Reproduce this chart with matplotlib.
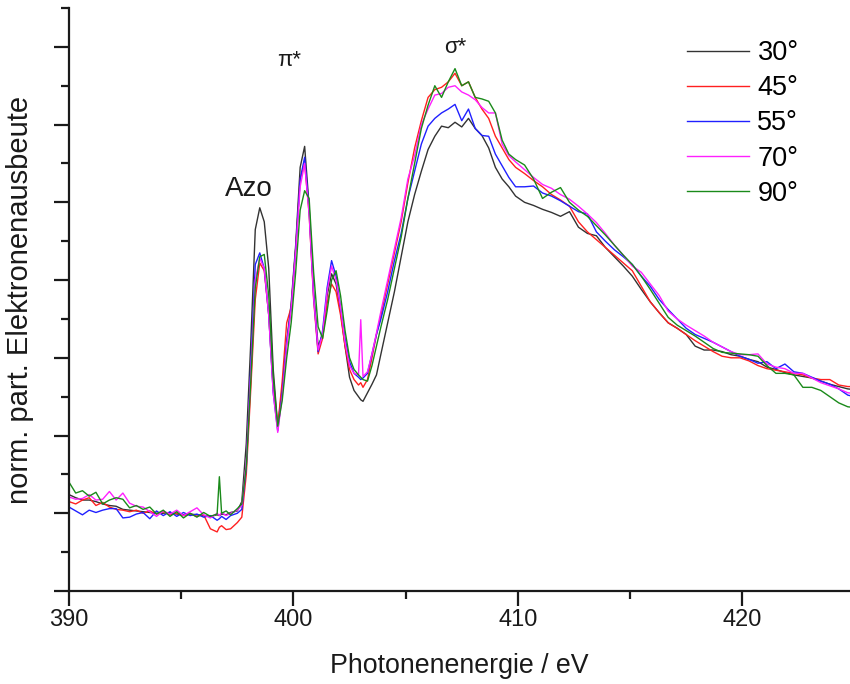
import matplotlib
matplotlib.use("Agg")
import matplotlib.pyplot as plt
from matplotlib.ticker import MultipleLocator, NullFormatter

plt.rcParams["font.family"] = ["Liberation Sans", "DejaVu Sans"]

# Photonenenergie (eV), gemeinsames Raster fuer alle Winkel
energy = [
    390.0, 390.3, 390.6, 390.9, 391.2, 391.5, 391.8, 392.1, 392.4, 392.7,
    393.0, 393.3, 393.6, 393.9, 394.2, 394.5, 394.8, 395.1, 395.4, 395.7,
    396.0, 396.3, 396.6, 396.7, 396.8, 397.0, 397.2, 397.5,
    397.7, 397.9, 398.1, 398.3, 398.5, 398.7, 398.9, 399.1, 399.3, 399.5,
    399.7, 399.9, 400.1, 400.3, 400.5, 400.7, 400.9, 401.1, 401.3, 401.5,
    401.7, 401.9, 402.1, 402.3, 402.5, 402.7, 402.9, 403.0, 403.1, 403.3,
    403.5, 403.7, 403.9,
    404.2, 404.5, 404.8, 405.1, 405.4, 405.7, 406.0, 406.3, 406.6, 406.9,
    407.2, 407.5, 407.8, 408.1, 408.4, 408.7, 409.0, 409.3, 409.6, 409.9,
    410.3, 410.7, 411.1, 411.5, 411.9, 412.3, 412.7, 413.1, 413.5, 413.9,
    414.3, 414.7, 415.1, 415.5, 415.9, 416.3, 416.7, 417.1, 417.5, 417.9,
    418.3, 418.7, 419.1, 419.5, 419.9, 420.3, 420.7, 421.1, 421.5, 421.9,
    422.3, 422.7, 423.1, 423.5, 423.9, 424.3, 424.7, 425.0,
]

y30 = [
    1.24, 1.20, 1.17, 1.17, 1.15, 1.12, 1.10, 1.09, 1.05, 1.04,
    1.03, 1.02, 1.01, 1.00, 1.00, 1.01, 0.99, 0.98, 0.99, 0.98,
    0.97, 0.96, 0.98, 0.97, 0.99, 0.98, 1.01, 1.03,
    1.15, 1.90, 3.20, 4.65, 4.93, 4.75, 4.15, 2.85, 2.12, 2.60,
    3.20, 3.70, 4.45, 5.45, 5.72, 4.95, 3.85, 3.15, 3.30, 3.80,
    4.08, 3.95, 3.60, 3.15, 2.75, 2.58, 2.50, 2.46, 2.44, 2.55,
    2.66, 2.78, 3.05,
    3.45, 3.85, 4.30, 4.75, 5.10, 5.40, 5.68, 5.85, 5.98, 5.96,
    6.03, 5.97, 6.08, 5.95, 5.86, 5.70, 5.45, 5.30, 5.20, 5.08,
    5.00, 4.96, 4.91, 4.87, 4.82, 4.88, 4.68, 4.60, 4.57, 4.42,
    4.30, 4.18, 4.05, 3.88, 3.72, 3.58, 3.45, 3.38, 3.30, 3.15,
    3.10, 3.10, 3.08, 3.04, 3.02, 2.98, 2.95, 2.88, 2.85, 2.81,
    2.78, 2.76, 2.74, 2.70, 2.66, 2.63, 2.60, 2.59,
]

y45 = [
    1.15, 1.12, 1.17, 1.20, 1.10, 1.14, 1.08, 1.05, 1.04, 1.02,
    1.04, 1.00, 1.03, 0.99, 1.02, 0.98, 1.00, 0.97, 0.99, 0.96,
    0.98, 0.80, 0.76, 0.82, 0.84, 0.79, 0.80, 0.88,
    0.95, 1.50, 2.60, 3.75, 4.22, 4.12, 3.55, 2.60, 2.12, 2.70,
    3.45, 3.65, 4.40, 5.30, 5.50, 4.85, 3.75, 3.05, 3.25, 3.70,
    3.95, 3.85, 3.55, 3.15, 2.85, 2.72, 2.65, 2.68, 2.62, 2.72,
    3.00, 3.30, 3.55,
    3.95, 4.35, 4.75, 5.25, 5.70, 6.05, 6.35, 6.45, 6.48, 6.55,
    6.66, 6.50, 6.55, 6.35, 6.20, 6.08, 5.85, 5.70, 5.55, 5.45,
    5.37, 5.28, 5.20, 5.10, 5.03, 4.95, 4.75, 4.62, 4.52, 4.42,
    4.32, 4.22, 4.12, 3.92, 3.72, 3.58, 3.45, 3.38, 3.30, 3.22,
    3.15, 3.08, 3.02, 3.00, 3.00, 2.96, 2.90, 2.86, 2.84, 2.82,
    2.80, 2.78, 2.74, 2.72, 2.72, 2.65, 2.63, 2.63,
]

y55 = [
    1.08, 1.03, 0.98, 1.04, 1.01, 1.04, 1.06, 1.06, 0.94, 0.95,
    0.99, 1.01, 0.93, 1.03, 0.97, 1.02, 0.96, 1.01, 0.97, 0.99,
    0.95, 0.97, 0.91, 0.93, 0.96, 0.92, 0.97, 1.00,
    1.05, 1.60, 2.90, 4.20, 4.35, 4.15, 3.55, 2.55, 2.06, 2.55,
    3.20, 3.65, 4.40, 5.30, 5.58, 4.90, 3.80, 3.08, 3.35, 3.90,
    4.25, 4.05, 3.65, 3.25, 2.95, 2.80, 2.75, 2.72, 2.74, 2.80,
    3.05, 3.30, 3.50,
    3.85, 4.25, 4.60, 5.05, 5.40, 5.75, 5.98, 6.08, 6.15, 6.20,
    6.26, 6.05, 6.20, 5.95, 5.86, 5.85, 5.62, 5.47, 5.32, 5.20,
    5.20, 5.21, 5.12, 5.08, 5.02, 4.95, 4.88, 4.85, 4.62, 4.50,
    4.39, 4.30, 4.20, 4.05, 3.92, 3.75, 3.62, 3.50, 3.38, 3.30,
    3.25, 3.20, 3.14, 3.08, 3.02, 2.98, 2.93, 2.95, 2.86, 2.92,
    2.82, 2.80, 2.75, 2.70, 2.66, 2.60, 2.52, 2.50,
]

y70 = [
    1.21, 1.18, 1.19, 1.24, 1.17, 1.18, 1.28, 1.17, 1.26, 1.13,
    1.09, 1.08, 1.02, 0.96, 1.03, 0.99, 1.04, 0.97, 1.02, 1.07,
    0.98, 0.94, 1.00, 0.97, 1.01, 0.97, 1.00, 1.04,
    1.10, 1.65, 2.80, 4.00, 4.28, 4.15, 3.55, 2.55, 2.04, 2.50,
    3.15, 3.62, 4.35, 5.20, 5.50, 4.85, 3.78, 3.10, 3.30, 3.85,
    4.18, 4.00, 3.65, 3.20, 2.90, 2.80, 2.78, 3.49, 2.76, 2.82,
    3.05, 3.32, 3.60,
    4.00, 4.40, 4.80, 5.30, 5.60, 6.00, 6.20, 6.38, 6.40, 6.48,
    6.50, 6.42, 6.38, 6.32, 6.22, 6.15, 6.15, 5.75, 5.60, 5.52,
    5.42, 5.32, 5.23, 5.18, 5.10, 5.04, 4.95, 4.85, 4.74, 4.60,
    4.45, 4.32, 4.18, 4.10, 3.95, 3.80, 3.60, 3.50, 3.42, 3.35,
    3.28, 3.20, 3.14, 3.08, 3.04, 3.04, 3.05, 2.92, 2.88, 2.86,
    2.80, 2.80, 2.74, 2.68, 2.64, 2.60, 2.55, 2.54,
]

y90 = [
    1.40, 1.26, 1.29, 1.22, 1.27, 1.12, 1.17, 1.20, 1.18, 1.07,
    1.10, 1.05, 1.08, 0.99, 1.04, 0.96, 1.02, 0.94, 1.00, 0.95,
    1.01, 0.96, 0.99, 1.47, 1.00, 1.03, 0.98, 1.06,
    1.12, 1.60, 2.70, 3.90, 4.30, 4.33, 3.80, 2.75, 2.12, 2.45,
    3.00, 3.45, 4.10, 4.90, 5.15, 5.05, 4.10, 3.40, 3.25, 3.60,
    4.00, 4.12, 3.80, 3.35, 3.00, 2.85, 2.78, 2.75, 2.72, 2.70,
    2.90, 3.15, 3.40,
    3.75, 4.15, 4.55, 5.05, 5.50, 5.95, 6.25, 6.50, 6.35, 6.55,
    6.72, 6.50, 6.55, 6.35, 6.33, 6.30, 6.15, 5.80, 5.62, 5.55,
    5.48, 5.30, 5.05, 5.13, 5.19, 5.00, 4.90, 4.82, 4.70, 4.58,
    4.45, 4.32, 4.20, 4.05, 3.88, 3.70, 3.52, 3.42, 3.35, 3.28,
    3.20, 3.12, 3.07, 3.06, 3.05, 3.04, 3.02, 2.90, 2.80, 2.80,
    2.78, 2.62, 2.62, 2.58, 2.50, 2.42, 2.37, 2.36,
]

series = [y30, y45, y55, y70, y90]
labels = ["30°", "45°", "55°", "70°", "90°"]
colors = ["#333333", "#ff2020", "#2020ff", "#ff20ff", "#1a8a1a"]

fig = plt.figure(figsize=(8.5, 6.84), dpi=100)
ax = fig.add_axes([69 / 850, 93 / 684, 1 - 69 / 850, 583 / 684])

for ys, lab, col in zip(series, labels, colors):
    ax.plot(energy, ys, color=col, lw=1.0, label=lab)

ax.set_xlim(390, 424.8)
ax.set_ylim(0, 7.5)

for side in ("top", "right"):
    ax.spines[side].set_visible(False)
for side in ("left", "bottom"):
    ax.spines[side].set_linewidth(1.6)
    ax.spines[side].set_color("#1a1a1a")

ax.xaxis.set_major_locator(MultipleLocator(10))
ax.xaxis.set_minor_locator(MultipleLocator(5))
ax.yaxis.set_major_locator(MultipleLocator(1))
ax.yaxis.set_minor_locator(MultipleLocator(0.5))
ax.yaxis.set_major_formatter(NullFormatter())
ax.tick_params(which="major", length=11, width=1.6, color="#1a1a1a",
               labelsize=17, labelcolor="#1a1a1a", pad=2)
ax.tick_params(which="minor", length=6, width=1.6, color="#1a1a1a")

ax.set_xlabel("Photonenenergie / eV", fontsize=19.3, color="#1a1a1a", labelpad=16)
ax.set_ylabel("norm. part. Elektronenausbeute", fontsize=21, color="#1a1a1a",
              labelpad=12)

ax.text(398.0, 5.08, "Azo", fontsize=20, color="#1a1a1a", ha="center", va="baseline")
ax.text(399.8, 6.75, "π*", fontsize=16, color="#1a1a1a", ha="center", va="baseline")
ax.text(407.2, 6.92, "σ*", fontsize=16, color="#1a1a1a", ha="center", va="baseline")

ax.legend(loc="upper left", bbox_to_anchor=(687 / 850, 644 / 684),
          bbox_transform=fig.transFigure, frameon=False, fontsize=19.5,
          handlelength=2.3, handletextpad=0.3, labelspacing=0.34,
          borderpad=0, borderaxespad=0)

fig.savefig("out.png", dpi=100)
